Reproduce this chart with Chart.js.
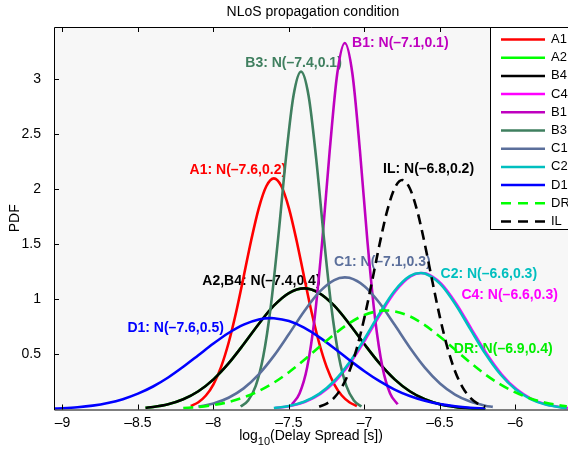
<!DOCTYPE html>
<html>
<head>
<meta charset="utf-8">
<script src="https://cdn.jsdelivr.net/npm/chart.js@4.4.0/dist/chart.umd.min.js"></script>
<style>
  html, body { margin: 0; padding: 0; background: #fff; }
  canvas { display: block; }
</style>
</head>
<body>
<canvas id="pdf" width="568" height="453"></canvas>
<script>
// values (log10 delay spread vs PDF)
const xA1 = [-8.15,-8.1,-8.05,-8,-7.95,-7.9,-7.85,-7.8,-7.75,-7.7,-7.65,-7.6,-7.55,-7.5,-7.45,-7.4,-7.35,-7.3,-7.25,-7.2,-7.15,-7.1,-7.05];
const yA1 = [0.032,0.066,0.127,0.229,0.385,0.604,0.883,1.207,1.538,1.828,2.028,2.1,2.028,1.828,1.538,1.207,0.883,0.604,0.385,0.229,0.127,0.066,0.032];

const xB4 = [-8.45,-8.4,-8.3,-8.2,-8.1,-8.0,-7.9,-7.8,-7.7,-7.6,-7.5,-7.4,-7.3,-7.2,-7.1,-7.0,-6.9,-6.8,-6.7,-6.6,-6.5,-6.4,-6.3,-6.2];
const yB4 = [0.016,0.023,0.048,0.093,0.166,0.274,0.419,0.593,0.777,0.943,1.058,1.1,1.058,0.943,0.777,0.593,0.419,0.274,0.166,0.093,0.048,0.023,0.010,0.004];
// A2 has the same distribution as B4 and sits under it
const xA2 = xB4;
const yA2 = yB4;

const xC2 = [-7.6,-7.5,-7.4,-7.3,-7.2,-7.1,-7.0,-6.9,-6.8,-6.7,-6.63,-6.6,-6.5,-6.4,-6.3,-6.2,-6.1,-6.0,-5.9,-5.8,-5.7,-5.66];
const yC2 = [0.013,0.032,0.071,0.142,0.259,0.427,0.641,0.872,1.079,1.211,1.24,1.235,1.143,0.961,0.733,0.508,0.320,0.183,0.095,0.045,0.019,0.013];
const xC4 = [-7.592,-7.492,-7.392,-7.292,-7.192,-7.092,-6.992,-6.892,-6.792,-6.692,-6.622,-6.592,-6.492,-6.392,-6.292,-6.192,-6.092,-5.992,-5.892,-5.792,-5.692,-5.652];
const yC4 = [0.013,0.032,0.071,0.142,0.259,0.427,0.641,0.872,1.079,1.211,1.24,1.235,1.143,0.961,0.733,0.508,0.320,0.183,0.095,0.045,0.019,0.013];

const xB1 = [-7.48,-7.43,-7.38,-7.33,-7.28,-7.23,-7.18,-7.13,-7.08,-7.03,-6.98,-6.93,-6.88,-6.83,-6.78];
const yB1 = [0.047,0.146,0.380,0.831,1.524,2.353,3.053,3.33,3.053,2.353,1.524,0.831,0.380,0.146,0.047];

const xB3 = [-7.82,-7.77,-7.72,-7.67,-7.62,-7.57,-7.52,-7.47,-7.42,-7.37,-7.32,-7.27,-7.22,-7.17,-7.12,-7.07,-7.02];
const yB3 = [0.027,0.082,0.214,0.483,0.940,1.578,2.284,2.851,3.07,2.851,2.284,1.578,0.940,0.483,0.214,0.082,0.027];

const xC1 = [-8.1,-8.0,-7.9,-7.8,-7.7,-7.6,-7.5,-7.4,-7.3,-7.2,-7.13,-7.1,-7.0,-6.9,-6.8,-6.7,-6.6,-6.5,-6.4,-6.3,-6.2,-6.15];
const yC1 = [0.026,0.055,0.107,0.192,0.319,0.487,0.686,0.891,1.066,1.176,1.2,1.196,1.120,0.967,0.769,0.564,0.381,0.237,0.136,0.072,0.035,0.024];

const xD1 = [-9.05,-9.0,-8.9,-8.8,-8.7,-8.6,-8.5,-8.4,-8.3,-8.2,-8.1,-8.0,-7.9,-7.8,-7.7,-7.62,-7.6,-7.5,-7.4,-7.3,-7.2,-7.1,-7.0,-6.9,-6.8,-6.7,-6.6,-6.5,-6.4,-6.3,-6.2];
const yD1 = [0.008,0.011,0.020,0.035,0.059,0.094,0.144,0.209,0.291,0.388,0.493,0.599,0.695,0.771,0.818,0.83,0.829,0.803,0.744,0.658,0.557,0.450,0.348,0.257,0.181,0.122,0.079,0.049,0.029,0.016,0.009];

const xDR = [-8.2,-8.1,-8.0,-7.9,-7.8,-7.7,-7.6,-7.5,-7.4,-7.3,-7.2,-7.1,-7.0,-6.9,-6.86,-6.8,-6.7,-6.6,-6.5,-6.4,-6.3,-6.2,-6.1,-6.0,-5.9,-5.8,-5.7,-5.66];
const yDR = [0.013,0.023,0.041,0.068,0.110,0.168,0.244,0.339,0.449,0.568,0.683,0.785,0.859,0.896,0.9,0.892,0.847,0.766,0.661,0.544,0.427,0.319,0.228,0.155,0.100,0.062,0.037,0.029];

const xIL = [-7.3,-7.25,-7.2,-7.15,-7.1,-7.05,-7.0,-6.95,-6.9,-6.85,-6.8,-6.75,-6.7,-6.65,-6.6,-6.55,-6.5,-6.45,-6.4,-6.35,-6.3,-6.25,-6.2];
const yIL = [0.025,0.054,0.108,0.201,0.348,0.560,0.837,1.162,1.501,1.802,2.010,2.085,2.010,1.802,1.501,1.162,0.837,0.560,0.348,0.201,0.108,0.054,0.025];

const seriesNames = ['A1','A2','B4','C4','B1','B3','C1','C2','D1','DR','IL'];
const seriesX = [xA1, xA2, xB4, xC4, xB1, xB3, xC1, xC2, xD1, xDR, xIL];
const seriesY = [yA1, yA2, yB4, yC4, yB1, yB3, yC1, yC2, yD1, yDR, yIL];
const seriesColors = ['#ff0000','#00ff00','#000000','#ff00ff','#bf00bf','#3f7f5f','#5b6f9b','#00bfbf','#0000ff','#00ff00','#000000'];
const dashed = ['DR','IL'];

const xTicks = [-9, -8.5, -8, -7.5, -7, -6.5, -6];
const yTicks = [0.5, 1, 1.5, 2, 2.5, 3];

// curve annotations: text, colour, left x and middle y in data units
const noteText  = ['B1: N(–7.1,0.1)','B3: N(–7.4,0.1)','A1: N(–7.6,0.2)','IL: N(–6.8,0.2)','C1: N(–7.1,0.3)','A2,B4: N(–7.4,0.4)','C2: N(–6.6,0.3)','C4: N(–6.6,0.3)','DR: N(–6.9,0.4)','D1: N(–7.6,0.5)'];
const noteColor = ['#bf00bf','#3f7f5f','#ff0000','#000000','#5b6f9b','#000000','#00bfbf','#ff00ff','#00ee00','#0000ff'];
const noteX     = [-7.082,-7.789,-8.158,-6.877,-7.201,-8.074,-6.496,-6.358,-6.408,-8.570];
const noteY     = [3.327,3.145,2.176,2.185,1.337,1.170,1.231,1.040,0.547,0.738];

const FONT = "'Liberation Sans', Arial, Helvetica, sans-serif";

const matlabLook = {
  id: 'matlabLook',
  beforeDraw(chart) {
    const { ctx, chartArea: a } = chart;
    ctx.save();
    ctx.fillStyle = '#fff';
    ctx.fillRect(0, 0, chart.width, chart.height);
    ctx.fillStyle = '#f7f7f7';
    ctx.fillRect(a.left, a.top, a.right - a.left, a.bottom - a.top);
    ctx.restore();
  },
  beforeDatasetsDraw(chart) {
    const { ctx, scales: { x, y } } = chart;
    ctx.save();
    ctx.font = 'bold 14px ' + FONT;
    ctx.textAlign = 'left';
    ctx.textBaseline = 'middle';
    noteText.forEach((t, i) => {
      ctx.fillStyle = noteColor[i];
      ctx.fillText(t, x.getPixelForValue(noteX[i]), y.getPixelForValue(noteY[i]));
    });
    ctx.restore();
  },
  afterDatasetsDraw(chart) {
    const { ctx, chartArea: a, scales: { x, y } } = chart;
    ctx.save();
    ctx.strokeStyle = '#000';
    ctx.lineWidth = 1;
    ctx.beginPath();
    ctx.moveTo(a.right + 1, a.top + 0.5);
    ctx.lineTo(a.left + 0.5, a.top + 0.5);
    ctx.lineTo(a.left + 0.5, a.bottom + 0.5);
    ctx.lineTo(a.right + 1, a.bottom + 0.5);
    xTicks.forEach(v => {
      const px = Math.round(x.getPixelForValue(v)) + 0.5;
      ctx.moveTo(px, a.bottom);
      ctx.lineTo(px, a.bottom - 5);
      ctx.moveTo(px, a.top);
      ctx.lineTo(px, a.top + 5);
    });
    yTicks.forEach(v => {
      const py = Math.round(y.getPixelForValue(v)) + 0.5;
      ctx.moveTo(a.left, py);
      ctx.lineTo(a.left + 5, py);
    });
    ctx.stroke();

    // legend box
    const lx = 490.5, ly = 27.5, rowH = 18.2;
    ctx.fillStyle = '#fff';
    ctx.fillRect(lx, ly, chart.width - lx + 2, 202);
    ctx.strokeRect(lx, ly, chart.width - lx + 2, 202);
    ctx.font = '13px ' + FONT;
    ctx.textBaseline = 'middle';
    seriesNames.forEach((n, i) => {
      const ry = 39.5 + i * rowH;
      ctx.strokeStyle = seriesColors[i];
      ctx.lineWidth = 2.5;
      ctx.setLineDash(dashed.includes(n) ? [10, 7] : []);
      ctx.beginPath();
      ctx.moveTo(501, ry);
      ctx.lineTo(545, ry);
      ctx.stroke();
      ctx.fillStyle = '#000';
      ctx.fillText(n, 551, ry);
    });
    ctx.restore();
  },
  afterDraw(chart) {
    const { ctx, chartArea: a } = chart;
    ctx.save();
    ctx.fillStyle = '#000';
    ctx.font = '14px ' + FONT;
    ctx.textAlign = 'center';
    ctx.textBaseline = 'middle';
    ctx.fillText('NLoS propagation condition', 313, 12);

    // x label with subscript
    const cx = (a.left + a.right) / 2;
    const p1 = 'log', p2 = '10', p3 = '(Delay Spread [s])';
    ctx.font = '14px ' + FONT;
    const w1 = ctx.measureText(p1).width, w3 = ctx.measureText(p3).width;
    ctx.font = '11px ' + FONT;
    const w2 = ctx.measureText(p2).width;
    const sx = cx - (w1 + w2 + w3) / 2;
    ctx.textAlign = 'left';
    ctx.font = '14px ' + FONT;
    ctx.fillText(p1, sx, 436);
    ctx.font = '11px ' + FONT;
    ctx.fillText(p2, sx + w1, 442);
    ctx.font = '14px ' + FONT;
    ctx.fillText(p3, sx + w1 + w2, 436);

    ctx.translate(15, (a.top + a.bottom) / 2);
    ctx.rotate(-Math.PI / 2);
    ctx.textAlign = 'center';
    ctx.fillText('PDF', 0, 0);
    ctx.restore();
  }
};

const datasets = seriesNames.map((n, i) => ({
  label: n,
  data: seriesX[i].map((xv, j) => ({ x: xv, y: seriesY[i][j] })),
  borderColor: seriesColors[i],
  borderWidth: 2.6,
  borderDash: dashed.includes(n) ? [10, 6] : [],
  pointRadius: 0,
  fill: false,
  cubicInterpolationMode: 'monotone',
  order: seriesNames.length - i
}));

new Chart(document.getElementById('pdf'), {
  type: 'line',
  data: { datasets },
  options: {
    responsive: false,
    animation: false,
    devicePixelRatio: 1,
    layout: { padding: { top: 27, right: 0, left: 0, bottom: 0 } },
    plugins: { legend: { display: false }, tooltip: { enabled: false } },
    scales: {
      x: {
        type: 'linear',
        min: -9.056,
        max: -5.652,
        afterBuildTicks: axis => { axis.ticks = xTicks.map(v => ({ value: v })); },
        afterFit: axis => { axis.height = 43.5; },
        grid: { display: false, drawTicks: false },
        border: { display: false },
        ticks: {
          color: '#000',
          font: { family: FONT, size: 14 },
          padding: 5,
          maxRotation: 0,
          callback: v => String(v).replace('-', '–')
        }
      },
      y: {
        min: 0,
        max: 3.475,
        afterBuildTicks: axis => { axis.ticks = yTicks.map(v => ({ value: v })); },
        afterFit: axis => { axis.width = 54; },
        grid: { display: false, drawTicks: false },
        border: { display: false },
        ticks: {
          color: '#000',
          font: { family: FONT, size: 14 },
          padding: 13,
          callback: v => String(v)
        }
      }
    }
  },
  plugins: [matlabLook]
});
</script>
</body>
</html>
